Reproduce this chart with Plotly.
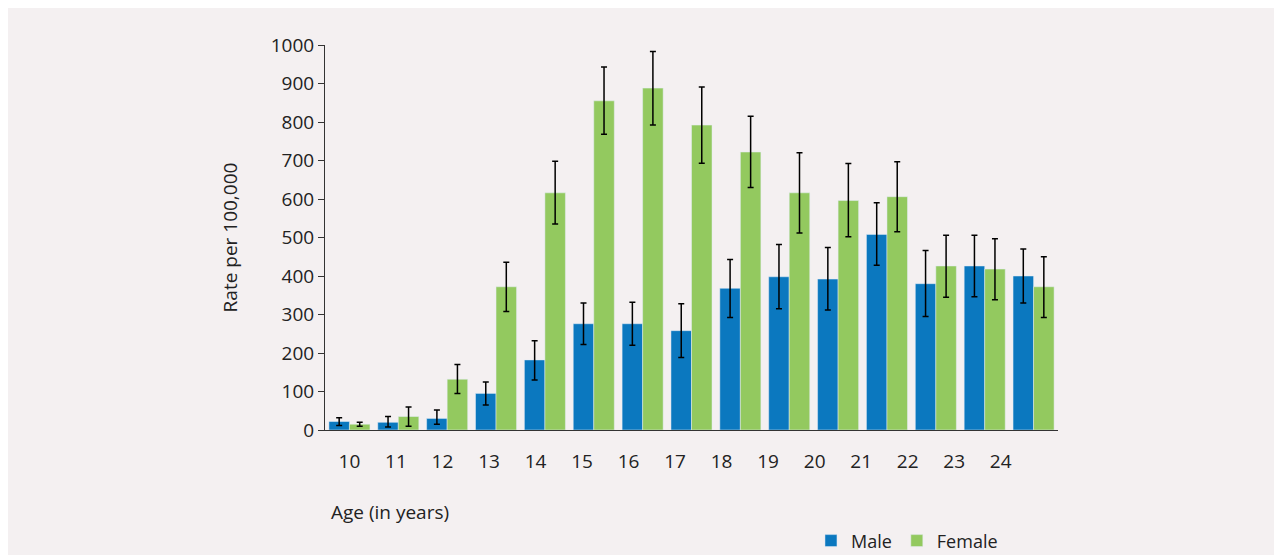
import plotly.graph_objects as go

ages = ["10","11","12","13","14","15","16","17","18","19","20","21","22","23","24"]
male = [22,20,30,95,182,276,276,258,368,398,392,508,380,426,400]
male_hi = [32,35,52,125,232,330,332,328,443,482,474,590,466,506,470]
male_lo = [12,8,15,65,130,222,220,188,292,315,312,428,295,346,330]
female = [15,35,132,372,616,855,888,792,722,616,596,606,426,418,372]
female_hi = [20,60,170,436,698,943,983,891,815,720,692,697,506,497,450]
female_lo = [10,10,95,308,535,768,792,693,630,512,502,515,345,338,292]

idx = list(range(len(ages)))
def eb(v, hi, lo, c="black"):
    return dict(type="data", symmetric=False,
                array=[h-x for h, x in zip(hi, v)],
                arrayminus=[x-l for l, x in zip(lo, v)],
                color=c, thickness=1.5, width=3)

fig = go.Figure()
fig.add_bar(x=idx, y=male, name="Male", marker_color="#0b78bf", error_y=eb(male, male_hi, male_lo))
fig.add_bar(x=idx, y=female, name="Female", marker_color="#93c95f", error_y=eb(female, female_hi, female_lo))

fig.update_layout(
    width=1282, height=555, barmode="group", bargap=0.16, bargroupgap=0,
    paper_bgcolor="#f4f0f1", plot_bgcolor="#f4f0f1",
    margin=dict(l=317, r=232, t=37, b=133, autoexpand=False),
    font=dict(family="Open Sans, Noto Sans, sans-serif", size=19, color="#222"),
    showlegend=True,
    legend=dict(orientation="h", x=0.663, y=-0.24, xanchor="left", yanchor="top",
                font=dict(size=18), bgcolor="rgba(0,0,0,0)"),
    xaxis=dict(range=[-0.5, 14.5], tickvals=[i*0.952 for i in idx], ticktext=ages,
               showline=True, linecolor="#333", ticks="", showgrid=False, zeroline=False,
               tickfont=dict(size=19), ticklabelstandoff=14),
    yaxis=dict(range=[0, 1000], dtick=100, showline=True, linecolor="#333", ticks="outside",
               ticklen=6, tickcolor="#333", showgrid=False, zeroline=False,
               title=dict(text="Rate per 100,000", font=dict(size=19), standoff=28)),
)
fig.add_annotation(text="Age (in years)", xref="paper", yref="paper", x=0.006, y=-0.175,
                   xanchor="left", yanchor="top", showarrow=False, font=dict(size=19))
fig.write_html("out.html")
